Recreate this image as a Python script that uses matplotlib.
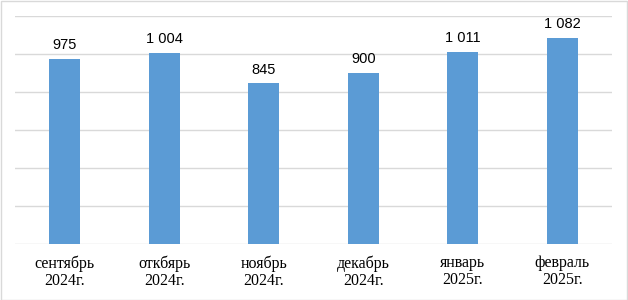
import matplotlib
matplotlib.use("Agg")
import matplotlib.pyplot as plt
import numpy as np

months = ["сентябрь\n2024г.", "откбярь\n2024г.", "ноябрь\n2024г.",
          "декабрь\n2024г.", "январь\n2025г.", "февраль\n2025г."]
values = [975, 1004, 845, 900, 1011, 1082]
labels = ["975", "1 004", "845", "900", "1 011", "1 082"]

fig = plt.figure(figsize=(6.28, 3.0), dpi=100)
ax = fig.add_axes([15/628, 56/300, 597/628, 228/300])

x = np.arange(len(values))
bars = ax.bar(x, values, width=0.31, color="#5B9BD5", zorder=3)

ax.set_xlim(-0.5, len(values) - 0.5)
ax.set_ylim(0, 1200)
ax.set_yticks(np.arange(0, 1201, 200))
ax.yaxis.grid(True, color="#D9D9D9", linewidth=1, zorder=0)
ax.tick_params(axis="y", left=False, labelleft=False)
ax.tick_params(axis="x", length=0, pad=8)
ax.set_xticks(x)
ax.set_xticklabels(months, family="Liberation Serif", fontsize=11.5, linespacing=1.1)
for s in ax.spines.values():
    s.set_visible(False)

for b, lab in zip(bars, labels):
    ax.annotate(lab, (b.get_x() + b.get_width() / 2, b.get_height()),
                xytext=(0, 5), textcoords="offset points", ha="center", va="bottom",
                family="Liberation Sans", fontsize=10.5)

# outer border of the chart area
fig.patches.append(plt.Rectangle((0.5/628, 0.5/300), 626.5/628, 298.5/300,
                                 transform=fig.transFigure, fill=False,
                                 edgecolor="#D9D9D9", linewidth=1))

fig.savefig("out.png", dpi=100)
